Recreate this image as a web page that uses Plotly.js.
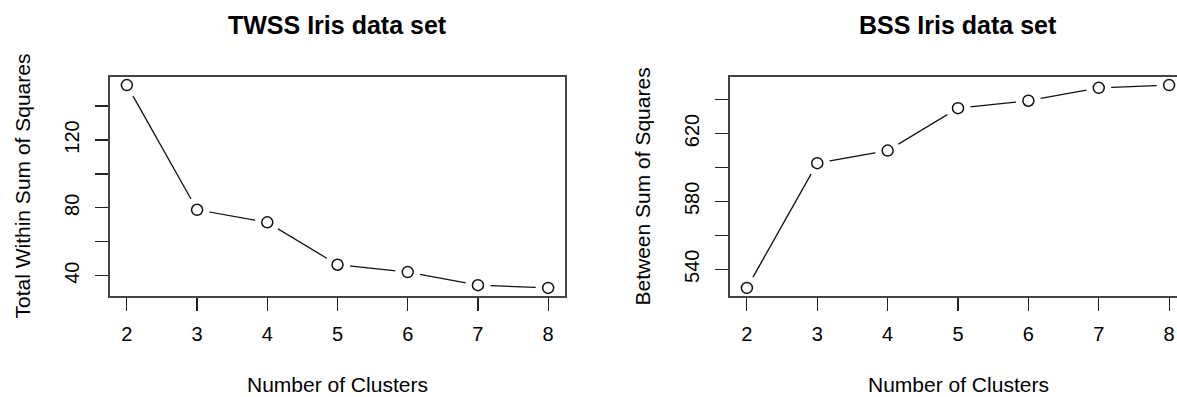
<!DOCTYPE html>
<html>
<head>
<meta charset="utf-8">
<script src="https://cdn.plot.ly/plotly-3.0.1.min.js"></script>
<style>
html, body { margin: 0; padding: 0; overflow: hidden; background: #fff; }
#chart { width: 1187px; height: 397px; }
</style>
</head>
<body>
<div id="chart"></div>
<script>
// Data
const clusters = [2, 3, 4, 5, 6, 7, 8];
const twss = [152.35, 78.85, 71.45, 46.45, 42.1, 34.4, 32.8];
const bss = [529.0, 602.5, 609.9, 634.9, 639.3, 646.9, 648.5];
const xTickVals = [2, 3, 4, 5, 6, 7, 8];
const twssTickVals = [40, 60, 80, 100, 120, 140];
const twssTickText = ["40", "", "80", "", "120", ""];
const bssTickVals = [540, 560, 580, 600, 620, 640];
const bssTickText = ["540", "", "580", "", "620", ""];
const panelTitles = ["TWSS Iris data set", "BSS Iris data set"];
const xTitle = "Number of Clusters";
const yTitles = ["Total Within Sum of Squares", "Between Sum of Squares"];

// R-style 4% padding of the data range
function rRange(arr, pad) {
  const mn = Math.min(...arr), mx = Math.max(...arr), d = mx - mn;
  return [mn - pad * d, mx + pad * d];
}

const FONT = "Liberation Sans, Arial, Helvetica, sans-serif";
const W = 1187, H = 397;
const L = 110, R = 1, T = 77, B = 101;
const plotW = W - L - R;
const leftBox = [110, 565], rightBox = [730, 1186];
const dom1 = [(leftBox[0] - L) / plotW, (leftBox[1] - L) / plotW];
const dom2 = [(rightBox[0] - L) / plotW, (rightBox[1] - L) / plotW];

function lineTrace(y, xa, ya) {
  return {
    x: clusters, y: y, xaxis: xa, yaxis: ya, type: 'scatter', mode: 'lines',
    line: { color: '#111', width: 1.3 }, hoverinfo: 'skip', showlegend: false
  };
}
function gapTrace(y, xa, ya) {
  return {
    x: clusters, y: y, xaxis: xa, yaxis: ya, type: 'scatter', mode: 'markers',
    marker: { symbol: 'circle', size: 25, color: '#fff', line: { width: 0 } },
    hoverinfo: 'skip', showlegend: false
  };
}
function ptTrace(y, xa, ya) {
  return {
    x: clusters, y: y, xaxis: xa, yaxis: ya, type: 'scatter', mode: 'markers',
    marker: { symbol: 'circle', size: 11, color: 'rgba(255,255,255,1)', line: { color: '#111', width: 1.5 } },
    showlegend: false
  };
}

const data = [
  lineTrace(twss, 'x', 'y'), gapTrace(twss, 'x', 'y'), ptTrace(twss, 'x', 'y'),
  lineTrace(bss, 'x2', 'y2'), gapTrace(bss, 'x2', 'y2'), ptTrace(bss, 'x2', 'y2')
];

const xr = rRange(clusters, 0.04);

function xAxis(dom, anchor) {
  return {
    domain: dom, anchor: anchor, range: xr, tickvals: xTickVals,
    ticks: 'outside', ticklen: 13, tickwidth: 1.2, tickcolor: '#222',
    showline: true, mirror: true, linecolor: '#444', linewidth: 1.6,
    showgrid: false, zeroline: false, ticklabelstandoff: 6,
    tickfont: { family: FONT, size: 20, color: '#000' }, fixedrange: true
  };
}
function yAxis(range, vals, text, anchor) {
  return {
    domain: [0, 1], anchor: anchor, range: range, tickvals: vals, ticktext: text,
    ticks: 'outside', ticklen: 13, tickwidth: 1.2, tickcolor: '#222', tickangle: -90,
    showline: true, mirror: true, linecolor: '#444', linewidth: 1.6,
    showgrid: false, zeroline: false, ticklabelstandoff: 8,
    tickfont: { family: FONT, size: 20, color: '#000' }, fixedrange: true
  };
}

const mid1 = (dom1[0] + dom1[1]) / 2, mid2 = (dom2[0] + dom2[1]) / 2;
const plotH = H - T - B;
const py = px => (H - B - px) / plotH;   // pixel y -> paper y
const pxX = px => (px - L) / plotW;      // pixel x -> paper x

const annotations = [
  { text: '<b>' + panelTitles[0] + '</b>', x: mid1, y: py(25), xref: 'paper', yref: 'paper', xanchor: 'center', yanchor: 'middle', showarrow: false, font: { family: FONT, size: 25, color: '#000' } },
  { text: '<b>' + panelTitles[1] + '</b>', x: mid2, y: py(25), xref: 'paper', yref: 'paper', xanchor: 'center', yanchor: 'middle', showarrow: false, font: { family: FONT, size: 25, color: '#000' } },
  { text: xTitle, x: mid1, y: py(384), xref: 'paper', yref: 'paper', xanchor: 'center', yanchor: 'middle', showarrow: false, font: { family: FONT, size: 21, color: '#000' } },
  { text: xTitle, x: mid2, y: py(384), xref: 'paper', yref: 'paper', xanchor: 'center', yanchor: 'middle', showarrow: false, font: { family: FONT, size: 21, color: '#000' } },
  { text: yTitles[0], x: pxX(22), y: 0.5, xref: 'paper', yref: 'paper', xanchor: 'center', yanchor: 'middle', textangle: -90, showarrow: false, font: { family: FONT, size: 21, color: '#000' } },
  { text: yTitles[1], x: pxX(642), y: 0.5, xref: 'paper', yref: 'paper', xanchor: 'center', yanchor: 'middle', textangle: -90, showarrow: false, font: { family: FONT, size: 21, color: '#000' } }
];

const layout = {
  width: W, height: H,
  margin: { l: L, r: R, t: T, b: B, pad: 0 },
  paper_bgcolor: '#fff', plot_bgcolor: '#fff',
  showlegend: false,
  font: { family: FONT, color: '#000' },
  xaxis: xAxis(dom1, 'y'),
  yaxis: yAxis(rRange(twss, 0.04), twssTickVals, twssTickText, 'x'),
  xaxis2: xAxis(dom2, 'y2'),
  yaxis2: yAxis(rRange(bss, 0.04), bssTickVals, bssTickText, 'x2'),
  annotations: annotations
};

Plotly.newPlot('chart', data, layout, { staticPlot: true, displayModeBar: false });
</script>
</body>
</html>
